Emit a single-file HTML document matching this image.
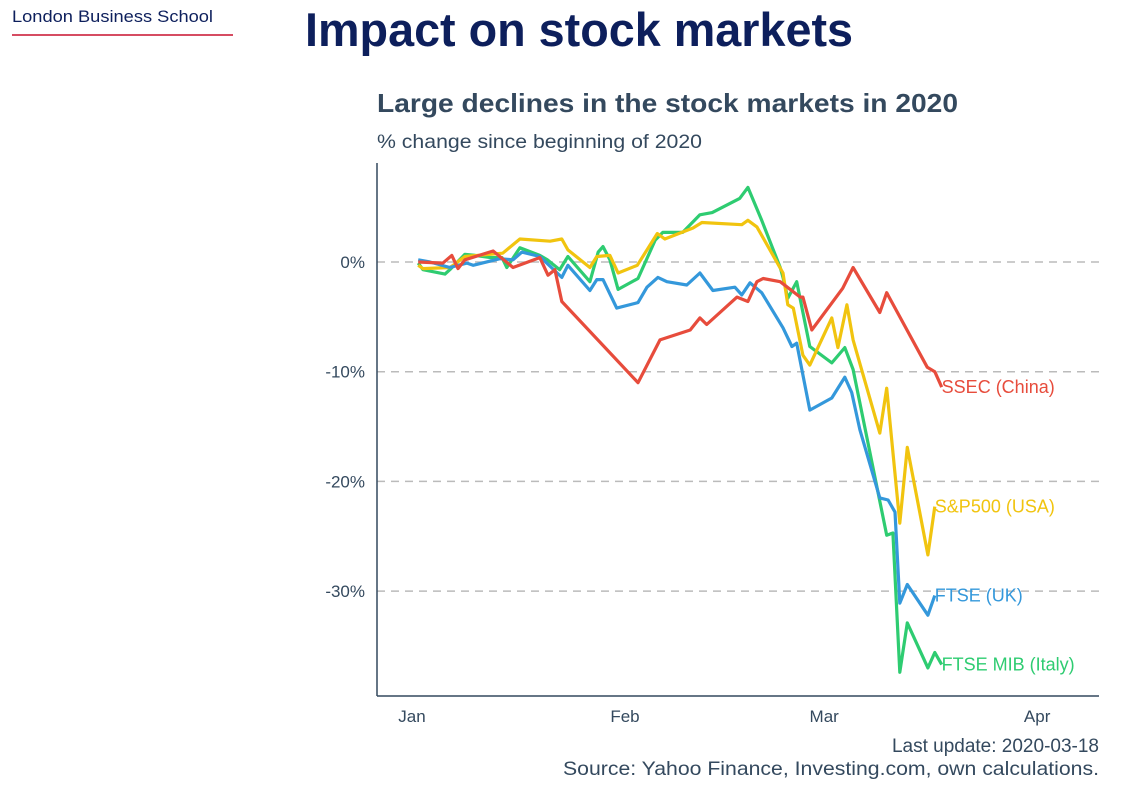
<!DOCTYPE html>
<html><head><meta charset="utf-8"><style>
body{margin:0;width:1128px;height:789px;background:#fff;overflow:hidden;font-family:"Liberation Sans",sans-serif;}
</style></head><body>
<svg width="1128" height="789" xmlns="http://www.w3.org/2000/svg" font-family="Liberation Sans, sans-serif">
<text x="12" y="22" font-size="17" fill="#0d1f5c" textLength="201" lengthAdjust="spacingAndGlyphs">London Business School</text>
<line x1="12" y1="35" x2="233" y2="35" stroke="#c8102e" stroke-width="1.5"/>
<text x="305" y="46" font-size="47" font-weight="bold" fill="#0d1f5c" textLength="548" lengthAdjust="spacingAndGlyphs">Impact on stock markets</text>
<text x="377" y="112" font-size="26" font-weight="bold" fill="#34495e" textLength="581" lengthAdjust="spacingAndGlyphs">Large declines in the stock markets in 2020</text>
<text x="377" y="148" font-size="19.5" fill="#34495e" textLength="325" lengthAdjust="spacingAndGlyphs">% change since beginning of 2020</text>
<g id="grid"></g>
<line x1="377" y1="163" x2="377" y2="696" stroke="#34495e" stroke-width="1.5"/>
<line x1="377" y1="696" x2="1099" y2="696" stroke="#34495e" stroke-width="1.5"/>
<g id="series"></g>
<text x="1099" y="752" font-size="19" fill="#34495e" text-anchor="end">Last update: 2020-03-18</text>
<text x="1099" y="775" font-size="19.5" fill="#34495e" text-anchor="end" textLength="536" lengthAdjust="spacingAndGlyphs">Source: Yahoo Finance, Investing.com, own calculations.</text>
</svg>
<script>
const yTicks=[0,-10,-20,-30];
const yTickLabels=["0%","-10%","-20%","-30%"];
const xTicks=[0,31,60,91];
const xTickLabels=["Jan","Feb","Mar","Apr"];
const seriesNames=["SSEC (China)","S&P500 (USA)","FTSE (UK)","FTSE MIB (Italy)"];
const seriesColors=["#e74c3c","#f1c40f","#3498db","#2ecc71"];
const ssecDays=[0.9,4.5,5.8,6.7,7.7,11.8,14.7,18.6,19.8,20.8,21.8,32.9,36.1,40.5,41.9,42.9,47.3,48.9,50.2,51.1,53.6,56.5,56.9,58.2,62.7,64.2,68.1,69.1,75.0,76.1,77.1];
const ssecVals=[0,-0.1,0.6,-0.6,0.2,1.0,-0.5,0.4,-1.2,-0.7,-3.6,-11.0,-7.1,-6.2,-5.1,-5.7,-3.2,-3.6,-1.8,-1.5,-1.8,-3.2,-3.2,-6.2,-2.4,-0.5,-4.6,-2.8,-9.6,-10.0,-11.4];
const spDays=[0.9,1.6,5.5,6.0,7.7,13.2,15.7,20.1,21.8,22.7,25.9,26.9,28.8,30.0,32.8,35.7,36.8,40.9,42.2,48.0,48.9,50.2,54.0,54.7,55.5,56.9,57.9,61.1,62.0,63.3,64.2,68.1,69.1,71.0,72.1,75.1,76.1];
const spVals=[-0.3,-0.6,-0.5,-0.3,0.5,0.8,2.1,1.9,2.1,1.1,-0.5,0.5,0.6,-1.0,-0.3,2.6,2.1,3.1,3.6,3.4,3.8,3.2,-1.0,-3.9,-4.2,-8.5,-9.4,-5.1,-7.8,-3.9,-7.1,-15.6,-11.5,-23.8,-16.9,-26.7,-22.3];
const ftseDays=[0.9,2.6,5.5,8.0,8.9,12.8,14.7,16.0,18.6,21.8,22.7,25.9,26.9,27.8,29.8,32.9,34.2,35.8,37.1,40.0,41.9,43.8,47.0,48.0,49.2,50.9,54.0,55.3,56.0,57.9,61.1,63.0,64.0,65.2,68.1,69.3,70.3,71.0,72.1,75.1,76.1];
const ftseVals=[0.2,0,-0.5,-0.1,-0.3,0.3,0.2,0.9,0.5,-1.4,-0.3,-2.6,-1.6,-1.6,-4.2,-3.7,-2.3,-1.4,-1.8,-2.1,-1.0,-2.6,-2.3,-3.0,-1.9,-2.8,-6.0,-7.7,-7.4,-13.5,-12.4,-10.5,-11.9,-15.3,-21.5,-21.7,-22.8,-31.1,-29.4,-32.2,-30.4];
const mibDays=[0.9,1.6,4.8,5.5,7.7,9.2,11.4,13.1,13.8,15.7,18.6,19.7,21.5,22.7,25.9,27.1,27.8,28.8,30.0,32.9,35.4,36.5,39.4,41.9,43.7,47.7,48.9,50.9,53.6,54.0,54.7,56.0,57.9,61.1,63.0,64.2,69.1,70.0,71.0,72.1,75.1,76.1,77.1];
const mibVals=[-0.1,-0.7,-1.1,-0.7,0.7,0.6,0.4,0.4,-0.5,1.3,0.6,0.2,-0.7,0.5,-1.8,0.9,1.4,0.2,-2.5,-1.5,2.0,2.7,2.7,4.3,4.5,5.8,6.8,3.8,-0.5,-1.4,-3.3,-1.8,-7.7,-9.2,-7.8,-9.8,-24.9,-24.7,-37.4,-32.9,-37.0,-35.6,-36.7];

const X=d=>412+d*6.87, Y=v=>262-v*10.97;
const NS="http://www.w3.org/2000/svg";
const svg=document.querySelector('svg'), grid=document.getElementById('grid'), ser=document.getElementById('series');
function mk(tag,attrs,parent){const e=document.createElementNS(NS,tag);for(const k in attrs)e.setAttribute(k,attrs[k]);parent.appendChild(e);return e;}
yTicks.forEach((t,i)=>{
  const l=mk('line',{x1:377,x2:1099,y1:Y(t),y2:Y(t),stroke:'#bbb','stroke-width':1.5,'stroke-dasharray':'8,6'},grid);
  
  
  const tx=mk('text',{x:365,y:Y(t)+6,'font-size':17,fill:'#34495e','text-anchor':'end'},svg);
  tx.textContent=yTickLabels[i];
  
  
});
xTicks.forEach((t,i)=>{
  const tx=mk('text',{x:X(t),y:722,'font-size':17,fill:'#34495e','text-anchor':'middle'},svg);
  tx.textContent=xTickLabels[i];
  
  
});
const allDays=[ssecDays,spDays,ftseDays,mibDays], allVals=[ssecVals,spVals,ftseVals,mibVals];
[3,1,2,0].forEach(s=>{
  const d=allDays[s].map((x,i)=>(i?'L':'M')+X(x).toFixed(1)+','+Y(allVals[s][i]).toFixed(1)).join('');
  const p=mk('path',{d:d,fill:'none',stroke:seriesColors[s],'stroke-width':3.2,'stroke-linejoin':'round'},ser);
  
  
});
[0,1,2,3].forEach(s=>{
  const n=allDays[s].length;
  const tx=mk('text',{x:X(allDays[s][n-1]),y:Y(allVals[s][n-1])+6,'font-size':18,fill:seriesColors[s]},svg);
  tx.textContent=seriesNames[s];
  
  
});
</script>
</body></html>
